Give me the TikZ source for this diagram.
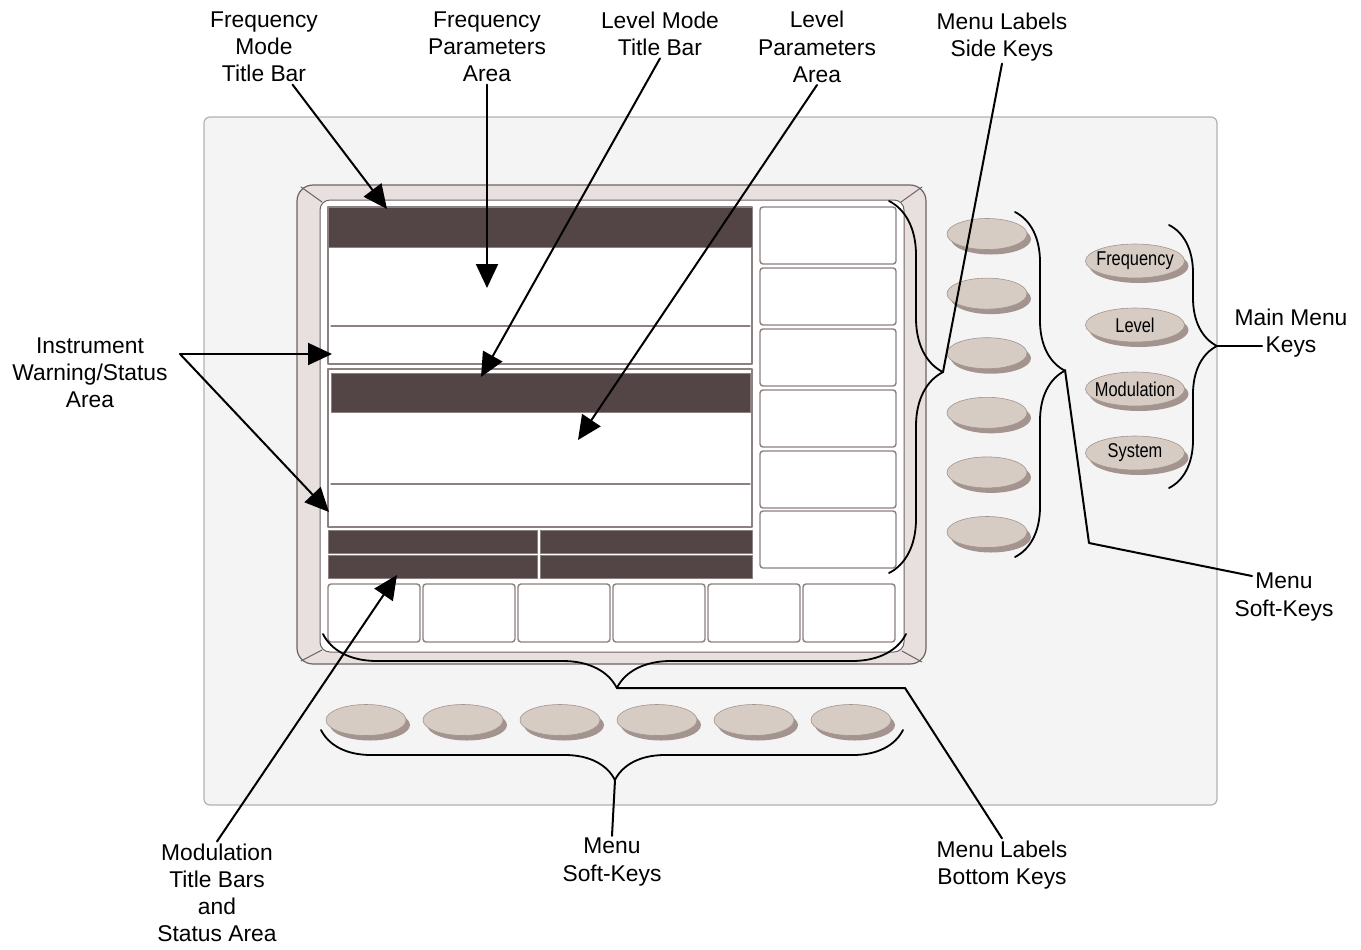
\documentclass[tikz,border=0pt]{standalone}
\usepackage{fontspec}
\setmainfont{Liberation Sans}
\newfontfamily\keyfont[FakeStretch=0.82]{Liberation Sans}
\usepackage{pgf,tikz}
\usetikzlibrary{arrows.meta}
\usetikzlibrary{shapes.geometric,shadows,positioning,decorations.pathreplacing}
\definecolor{fufufu}{rgb}{0.957,0.957,0.957}
\definecolor{byaqaq}{rgb}{0.72,0.69,0.68}
\definecolor{eyerde}{rgb}{0.91,0.88,0.87}
\definecolor{wewuwu}{rgb}{0.43,0.39,0.39}
\definecolor{vtuvuv}{rgb}{0.325,0.27,0.27}
\definecolor{ycyqyq}{rgb}{0.55,0.5,0.5}
\definecolor{dwcbcu}{rgb}{0.84,0.8,0.77}
\definecolor{atztzq}{rgb}{0.64,0.58,0.56}

\begin{document}
\begin{tikzpicture}[line cap=round,line join=round,>={Triangle[length=12pt,width=11pt]},x=0.5pt,y=-0.5pt,
  lbl/.style={align=center,font=\fontsize{11.4}{13.6}\selectfont,inner sep=1pt},
  conn/.style={line width=1pt,black},
  brc/.style={decorate,decoration={brace,amplitude=#1,aspect=0.46},line width=0.9pt},
  labelbox/.style={draw=ycyqyq,line width=0.7pt,fill=white,rounded corners=1.5pt},
  darkbar/.style={fill=vtuvuv,draw=ycyqyq,line width=0.5pt},
  softkey/.style={ellipse,draw=atztzq,line width=0.3pt,fill=dwcbcu,minimum width=40pt,minimum height=15.5pt,inner sep=0pt,
    drop shadow={shadow xshift=2pt,shadow yshift=-2.5pt,fill=atztzq,opacity=1}},
  mainkey/.style={softkey,minimum width=49.5pt,minimum height=17pt,font=\keyfont\fontsize{10}{12}\selectfont}]
\useasboundingbox (0,0) rectangle (1361,949);
% front panel and bezel
\draw[fill=fufufu,draw=byaqaq,line width=0.6pt,rounded corners=3pt] (204,117) rectangle (1217,805);
\draw[fill=eyerde,draw=wewuwu,line width=0.6pt,rounded corners=8pt] (297,185) rectangle (926,664);
\draw[fill=white,draw=wewuwu,line width=0.5pt,rounded corners=5pt] (320,200) rectangle (904,652);
\draw[wewuwu,line width=0.5pt] (301,187) -- (322,202) (922,187) -- (901,202) (301,661) -- (322,650) (922,662) -- (902,651);
% screen areas
\draw[labelbox,rounded corners=0pt] (328,207) rectangle (752,364);
\draw[darkbar] (328,207) rectangle (752,247);
\draw[ycyqyq,line width=0.6pt] (331,326) -- (750,326);
\draw[labelbox,rounded corners=0pt] (328,369) rectangle (752,527);
\draw[darkbar] (331,373) rectangle (750,412);
\draw[ycyqyq,line width=0.6pt] (331,484) -- (750,484);
\foreach \y in {530,555}
  {\draw[darkbar] (328,\y) rectangle (537,\y+23);
   \draw[darkbar] (540,\y) rectangle (752,\y+23);}
\foreach \y in {207,268,329,390,451,511}
  \draw[labelbox] (760,\y) rectangle (896,\y+57);
\foreach \x in {328,423,518,613,708,803}
  \draw[labelbox] (\x,584) rectangle (\x+92,642);
% keys
\foreach \i in {0,...,5}
  \node[softkey] (sk\i) at (987,234+59.6*\i) {};
\foreach \i in {0,...,5}
  \node[softkey] (bk\i) at (366+97*\i,720) {};
\foreach \t [count=\i from 0] in {Frequency,Level,Modulation,System}
  \node[mainkey] (mk\i) at (1135,261+64*\i) {\makebox[0pt]{\t}};
% braces
\draw[brc=27pt] (889,201) -- (889,573);
\draw[brc=25pt] (1015,212) -- (1015,557);
\draw[brc=24pt] (1169,225) -- (1169,488);
\draw[brc=27pt,decoration={aspect=0.496}] (906,634) -- (323,634);
\draw[brc=25pt,decoration={aspect=0.495}] (903,730) -- (321,730);
\coordinate (scrtip) at (943,372);
\coordinate (sktip) at (1065,370);
\coordinate (mmtip) at (1217,346);
\coordinate (bltip) at (617,688);
\coordinate (bktip) at (615,780);
% labels
\node[lbl] (fmtb) at (264,47) {Frequency\\Mode\\Title Bar};
\node[lbl] (fpa) at (487,47) {Frequency\\Parameters\\Area};
\node[lbl] (lmtb) at (660,34) {Level Mode\\Title Bar};
\node[lbl] (lpa) at (817,47) {Level\\Parameters\\Area};
\node[lbl] (mlsk) at (1002,37) {Menu Labels\\Side Keys};
\node[lbl] (iwsa) at (90,373) {Instrument\\Warning/Status\\Area};
\node[lbl] (mmk) at (1291,333) {Main Menu\\Keys};
\node[lbl] (mskr) at (1284,597) {Menu\\Soft-Keys};
\node[lbl] (mtbs) at (217,893) {Modulation\\Title Bars\\and\\Status Area};
\node[lbl] (mskb) at (612,862) {Menu\\Soft-Keys};
\node[lbl] (mlbk) at (1002,865) {Menu Labels\\Bottom Keys};
% arrow ends
\coordinate (fmbar) at (387,209);
\coordinate (fparea) at (487,288);
\coordinate (fwarn) at (332,354);
\coordinate (lwarn) at (329,512);
\coordinate (lmbar) at (481,377);
\coordinate (lparea) at (578,440);
\coordinate (modbar) at (397,575);
\coordinate (iwsjoin) at (180,354);
\coordinate (mmkend) at (1262,346);
\coordinate (skbend) at (1089,543);
\coordinate (mskrend) at (1252,576);
\coordinate (blbend) at (905,688);
% connectors
\draw[->,conn] (fmtb) -- (fmbar);
\draw[->,conn] (fpa.south) -- (fparea);
\draw[->,conn] (lmtb.south) -- (lmbar);
\draw[->,conn] (lpa.south) -- (lparea);
\draw[->,conn] (iwsjoin) -- (fwarn);
\draw[->,conn] (iwsjoin) -- (lwarn);
\draw[->,conn] (mtbs.north) -- (modbar);
\draw[conn] (mlsk.south) -- (scrtip);
\draw[conn] (mmtip) -- (mmkend);
\draw[conn] (sktip) -- (skbend) -- (mskrend);
\draw[conn] (bltip) -- (blbend) -- (mlbk.north);
\draw[conn] (bktip) -- (mskb.north);
\end{tikzpicture}
\end{document}
